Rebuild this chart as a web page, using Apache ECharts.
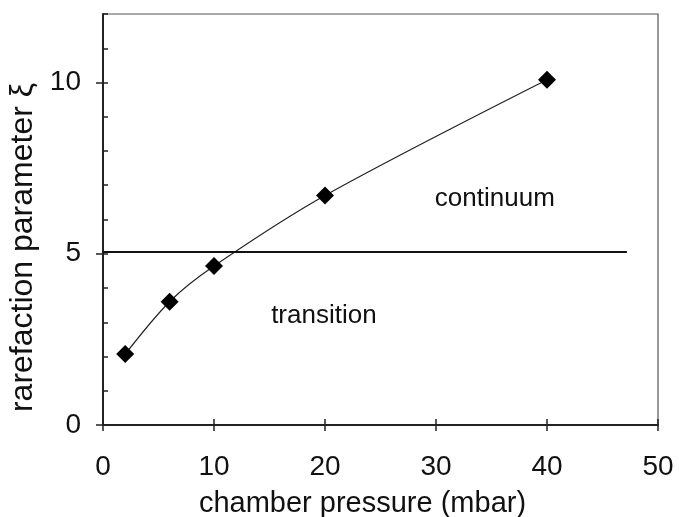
<!DOCTYPE html>
<html><head><meta charset="utf-8">
<script src="https://cdn.jsdelivr.net/npm/echarts@6/dist/echarts.min.js"></script>
<style>html,body{margin:0;padding:0;background:#fff}#c{width:679px;height:517px}</style>
</head><body><div id="c"></div>
<script>
const pressure = [2, 6, 10, 20, 40];
const xi = [2.07, 3.6, 4.64, 6.7, 10.08];
const boundaryX = [0, 47.2];
const boundaryY = [5.05, 5.05];
const xTicks = [0, 10, 20, 30, 40, 50];
const yTicks = [0, 5, 10];
const regionLabels = [
  {name: 'continuum', x: 35.3, y: 6.6},
  {name: 'transition', x: 19.9, y: 3.2}
];

const chart = echarts.init(document.getElementById('c'));
const font = 'Liberation Sans, Arial, sans-serif';
chart.setOption({
  animation: false,
  grid: {left: 103, right: 21, top: 14, bottom: 92, show: true, borderColor: '#555', borderWidth: 1.2,
         containLabel: false, outerBoundsMode: 'none'},
  xAxis: [
    {type: 'value', min: 0, max: 50, interval: 10,
     name: 'chamber pressure (mbar)', nameLocation: 'middle', nameGap: 64,
     nameTextStyle: {fontFamily: font, fontSize: 29, color: '#111', padding: [0, 36, 0, 0]},
     axisLine: {lineStyle: {color: '#222', width: 2}},
     axisTick: {inside: false, length: 6, lineStyle: {color: '#222', width: 1.5}},
     axisLabel: {fontFamily: font, fontSize: 28, color: '#111', margin: 28,
       formatter: v => xTicks.includes(v) ? String(v) : ''},
     splitLine: {show: false}},
    {type: 'value', min: 0, max: 50, interval: 10, position: 'bottom',
     axisLine: {show: false},
     axisTick: {inside: true, length: 6, lineStyle: {color: '#222', width: 1.5}},
     axisLabel: {show: false}, splitLine: {show: false}}
  ],
  yAxis: [
    {type: 'value', min: 0, max: 12, interval: 1,
     name: 'rarefaction parameter \u03be', nameLocation: 'middle', nameGap: 43, nameRotate: 90,
     nameTextStyle: {fontFamily: font, fontSize: 32, color: '#111', padding: [0, 56, 0, 0]},
     axisLine: {lineStyle: {color: '#222', width: 2}},
     axisTick: {inside: true, length: 5, lineStyle: {color: '#222', width: 1.5}},
     axisLabel: {fontFamily: font, fontSize: 28, color: '#111', margin: 22,
       formatter: v => yTicks.includes(v) ? String(v) : ''},
     splitLine: {show: false}},
    {type: 'value', min: 0, max: 12, position: 'left',
     axisLine: {show: false},
     axisTick: {inside: false, length: 7, customValues: yTicks, lineStyle: {color: '#222', width: 1.5}},
     axisLabel: {show: false, customValues: yTicks}, splitLine: {show: false}}
  ],
  series: [
    {type: 'line', data: pressure.map((p, i) => [p, xi[i]]),
     smooth: 0.3, symbol: 'diamond', symbolSize: 18,
     itemStyle: {color: '#000'}, lineStyle: {color: '#222', width: 1.2}},
    {type: 'line', data: boundaryX.map((x, i) => [x, boundaryY[i]]),
     symbol: 'none', lineStyle: {color: '#111', width: 2}},
    {type: 'scatter', data: regionLabels.map(r => ({value: [r.x, r.y], name: r.name})),
     symbolSize: 0, itemStyle: {opacity: 1},
     label: {show: true, position: 'inside', formatter: p => p.name,
       fontFamily: font, fontSize: 26, color: '#111'}}
  ]
});
</script></body></html>
